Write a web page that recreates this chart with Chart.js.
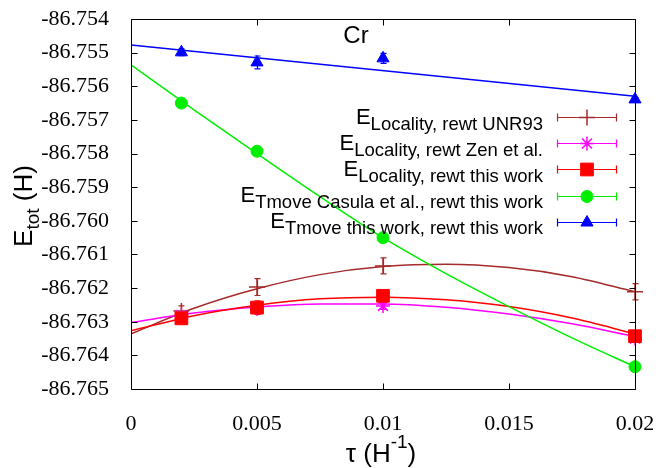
<!DOCTYPE html>
<html>
<head>
<meta charset="utf-8">
<script src="https://cdn.jsdelivr.net/npm/chart.js@4.4.1/dist/chart.umd.min.js"></script>
<style>
  html, body { margin: 0; padding: 0; background: #fff; }
  #c { display: block; }
</style>
</head>
<body>
<canvas id="c" width="658" height="468"></canvas>
<script>
// measured points
const tau = [0.002, 0.005, 0.01, 0.02];
const unr93 = [-86.76268, -86.76197, -86.76134, -86.76211];
const unr93Err = [0.00015, 0.00025, 0.00024, 0.00024];
const zen = [-86.76280, -86.76262, -86.76253, -86.76350];
const zenErr = [0.00008, 0.0001, 0.0001, 0.00006];
const thisWork = [-86.76290, -86.76258, -86.76223, -86.76343];
const thisWorkErr = [0.0001, 0.0002, 0.00012, 0.0001];
const casula = [-86.75650, -86.75793, -86.76050, -86.76434];
const casulaErr = [0.00006, 0.00012, 0.00006, 0.00006];
const tmove = [-86.75499, -86.75529, -86.75517, -86.75639];
const tmoveErr = [0.0001, 0.00019, 0.00015, 0.00005];

// fit curves
const fitTau = [0, 0.0025, 0.005, 0.0075, 0.01, 0.0125, 0.015, 0.0175, 0.02];
const fitUnr93 = [-86.76336, -86.76260, -86.76202, -86.76160, -86.76136, -86.76129, -86.76139, -86.76166, -86.76211];
const fitZen = [-86.76302, -86.76274, -86.76256, -86.76247, -86.76247, -86.76257, -86.76277, -86.76306, -86.76344];
const fitThis = [-86.76327, -86.76282, -86.76251, -86.76232, -86.76227, -86.76235, -86.76255, -86.76289, -86.76336];
const fitCasula = [-86.75536, -86.75670, -86.75800, -86.75928, -86.76050, -86.76157, -86.76255, -86.76348, -86.76434];
const fitTmoveTau = [0, 0.02];
const fitTmove = [-86.75477, -86.75630];

const xTicks = [0, 0.005, 0.01, 0.015, 0.02];
const xTickLabels = ["0", "0.005", "0.01", "0.015", "0.02"];
const yTicks = [-86.765, -86.764, -86.763, -86.762, -86.761, -86.760, -86.759, -86.758, -86.757, -86.756, -86.755, -86.754];
const yTickLabels = ["-86.765", "-86.764", "-86.763", "-86.762", "-86.761", "-86.760", "-86.759", "-86.758", "-86.757", "-86.756", "-86.755", "-86.754"];

const legendMain = ["E", "E", "E", "E", "E"];
const legendSub = [
    "Locality, rewt UNR93",
    "Locality, rewt Zen et al.",
    "Locality, rewt this work",
    "Tmove Casula et al., rewt this work",
    "Tmove this work, rewt this work"
];

const sansFont = "\"Liberation Sans\", Arial, sans-serif";
const serifFont = "\"Liberation Serif\", \"Times New Roman\", Times, serif";

Chart.defaults.font.family = serifFont;

const series = [
    { data: unr93, err: unr93Err, fit: fitUnr93, fitX: fitTau, color: "#a52a2a", style: "cross", radius: 8 },
    { data: zen, err: zenErr, fit: fitZen, fitX: fitTau, color: "#ff00ff", style: "star", radius: 7 },
    { data: thisWork, err: thisWorkErr, fit: fitThis, fitX: fitTau, color: "#ff0000", style: "rect", radius: 9 },
    { data: casula, err: casulaErr, fit: fitCasula, fitX: fitTau, color: "#00ee00", style: "circle", radius: 6 },
    { data: tmove, err: tmoveErr, fit: fitTmove, fitX: fitTmoveTau, color: "#0000ff", style: "triangle", radius: 7 }
];

const datasets = [];
series.forEach(function (s, k) {
    datasets.push({
        data: s.fitX.map((x, i) => ({ x: x, y: s.fit[i] })),
        showLine: true,
        borderColor: s.color,
        borderWidth: 1.5,
        pointRadius: 0,
        cubicInterpolationMode: "monotone",
        order: 20 - k
    });
    datasets.push({
        data: tau.map((x, i) => ({ x: x, y: s.data[i] })),
        showLine: false,
        pointStyle: s.style,
        pointRadius: s.radius,
        pointBackgroundColor: s.color,
        pointBorderColor: s.color,
        pointBorderWidth: s.style === "cross" || s.style === "star" ? 1.5 : 1,
        clip: false,
        order: 10 - k
    });
});

function drawSubText(ctx, x, y, main, sub, mainSize, subSize, shift) {
    ctx.font = mainSize + "px " + sansFont;
    ctx.fillText(main, x, y);
    const w = ctx.measureText(main).width;
    ctx.font = subSize + "px " + sansFont;
    ctx.fillText(sub, x + w, y + shift);
}

const decorPlugin = {
    id: "decor",
    beforeDatasetsDraw(chart) {
        const ctx = chart.ctx;
        const xs = chart.scales.x, ys = chart.scales.y;
        ctx.save();
        ctx.lineWidth = 1.2;
        series.forEach(function (s) {
            ctx.strokeStyle = s.color;
            tau.forEach(function (t, i) {
                const px = Math.round(xs.getPixelForValue(t)) + 0.5;
                const y1 = ys.getPixelForValue(s.data[i] + s.err[i]);
                const y2 = ys.getPixelForValue(s.data[i] - s.err[i]);
                ctx.beginPath();
                ctx.moveTo(px, y1); ctx.lineTo(px, y2);
                ctx.moveTo(px - 3, y1); ctx.lineTo(px + 3, y1);
                ctx.moveTo(px - 3, y2); ctx.lineTo(px + 3, y2);
                ctx.stroke();
            });
        });
        ctx.restore();
    },
    afterDraw(chart) {
        const ctx = chart.ctx;
        const a = chart.chartArea;
        const xs = chart.scales.x, ys = chart.scales.y;
        ctx.save();
        // frame with mirrored inward ticks
        ctx.strokeStyle = "#000";
        ctx.lineWidth = 1;
        const L = Math.round(a.left) + 0.5, R = Math.round(a.right) + 0.5;
        const T = Math.round(a.top) + 0.5, B = Math.round(a.bottom) + 0.5;
        ctx.beginPath();
        ctx.rect(L, T, R - L, B - T);
        xTicks.forEach(function (v) {
            const px = Math.round(xs.getPixelForValue(v)) + 0.5;
            ctx.moveTo(px, B); ctx.lineTo(px, B - 6);
            ctx.moveTo(px, T); ctx.lineTo(px, T + 6);
        });
        yTicks.forEach(function (v) {
            const py = Math.round(ys.getPixelForValue(v)) + 0.5;
            ctx.moveTo(L, py); ctx.lineTo(L + 6, py);
            ctx.moveTo(R, py); ctx.lineTo(R - 6, py);
        });
        ctx.stroke();

        ctx.fillStyle = "#000";
        ctx.textBaseline = "alphabetic";

        // title inside the plot
        ctx.font = "24px " + sansFont;
        ctx.textAlign = "center";
        ctx.fillText("Cr", 356, 43);
        ctx.textAlign = "left";

        // x axis title
        ctx.font = "26px " + sansFont;
        const w1 = ctx.measureText("\u03c4 (H").width;
        ctx.font = "19px " + sansFont;
        const w2 = ctx.measureText("-1").width;
        ctx.font = "26px " + sansFont;
        const w3 = ctx.measureText(")").width;
        const x0 = 381 - (w1 + w2 + w3) / 2;
        ctx.fillText("\u03c4 (H", x0, 462);
        ctx.font = "19px " + sansFont;
        ctx.fillText("-1", x0 + w1, 448);
        ctx.font = "26px " + sansFont;
        ctx.fillText(")", x0 + w1 + w2, 462);

        // y axis title, rotated
        ctx.save();
        ctx.font = "26px " + sansFont;
        const e1 = ctx.measureText("E").width;
        const e3 = ctx.measureText(" (H)").width;
        ctx.font = "19px " + sansFont;
        const e2 = ctx.measureText("tot").width;
        ctx.translate(32, 206);
        ctx.rotate(-Math.PI / 2);
        const y0 = -(e1 + e2 + e3) / 2;
        ctx.font = "26px " + sansFont;
        ctx.fillText("E", y0, 0);
        ctx.font = "19px " + sansFont;
        ctx.fillText("tot", y0 + e1, 7);
        ctx.font = "26px " + sansFont;
        ctx.fillText(" (H)", y0 + e1 + e2, 0);
        ctx.restore();

        // legend, right aligned text with error-bar samples
        series.forEach(function (s, k) {
            const ly = 117 + k * 26.2;
            ctx.fillStyle = "#000";
            ctx.font = "22px " + sansFont;
            const mw = ctx.measureText(legendMain[k]).width;
            ctx.font = "18.5px " + sansFont;
            const sw = ctx.measureText(legendSub[k]).width;
            drawSubText(ctx, 543 - mw - sw, ly + 6.5, legendMain[k], legendSub[k], 22, 18.5, 6);

            ctx.strokeStyle = s.color;
            ctx.fillStyle = s.color;
            ctx.lineWidth = 1.2;
            const yy = Math.round(ly) + 0.5;
            ctx.beginPath();
            ctx.moveTo(557, yy); ctx.lineTo(617, yy);
            ctx.moveTo(557.5, yy - 4); ctx.lineTo(557.5, yy + 4);
            ctx.moveTo(616.5, yy - 4); ctx.lineTo(616.5, yy + 4);
            ctx.stroke();
            ctx.lineWidth = s.style === "cross" || s.style === "star" ? 1.5 : 1;
            Chart.helpers.drawPoint(ctx, { pointStyle: s.style, radius: s.radius, rotation: 0, borderWidth: ctx.lineWidth }, 587, yy);
        });
        ctx.restore();
    }
};

const ctx = document.getElementById("c").getContext("2d");
const chart = new Chart(ctx, {
    type: "scatter",
    data: { datasets: datasets },
    options: {
        responsive: false,
        animation: false,
        devicePixelRatio: 1,
        layout: { padding: { left: 0, top: 19, right: 23, bottom: 0 } },
        plugins: {
            legend: { display: false },
            tooltip: { enabled: false }
        },
        scales: {
            x: {
                type: "linear",
                min: 0,
                max: 0.02,
                grid: { display: false },
                border: { display: false },
                afterBuildTicks: function (s) { s.ticks = xTicks.map(v => ({ value: v })); },
                afterFit: function (s) { s.height = 79; s.paddingLeft = 0; s.paddingRight = 0; },
                ticks: {
                    autoSkip: false,
                    maxRotation: 0,
                    padding: 14,
                    color: "#000",
                    font: { family: serifFont, size: 22 },
                    callback: function (v, i) { return xTickLabels[i]; }
                }
            },
            y: {
                type: "linear",
                min: -86.765,
                max: -86.754,
                grid: { display: false },
                border: { display: false },
                afterBuildTicks: function (s) { s.ticks = yTicks.map(v => ({ value: v })); },
                afterFit: function (s) { s.width = 131; s.paddingTop = 0; s.paddingBottom = 0; },
                ticks: {
                    autoSkip: false,
                    padding: 14,
                    color: "#000",
                    font: { family: serifFont, size: 22 },
                    callback: function (v, i) { return yTickLabels[i]; }
                }
            }
        }
    },
    plugins: [decorPlugin]
});
</script>
</body>
</html>
